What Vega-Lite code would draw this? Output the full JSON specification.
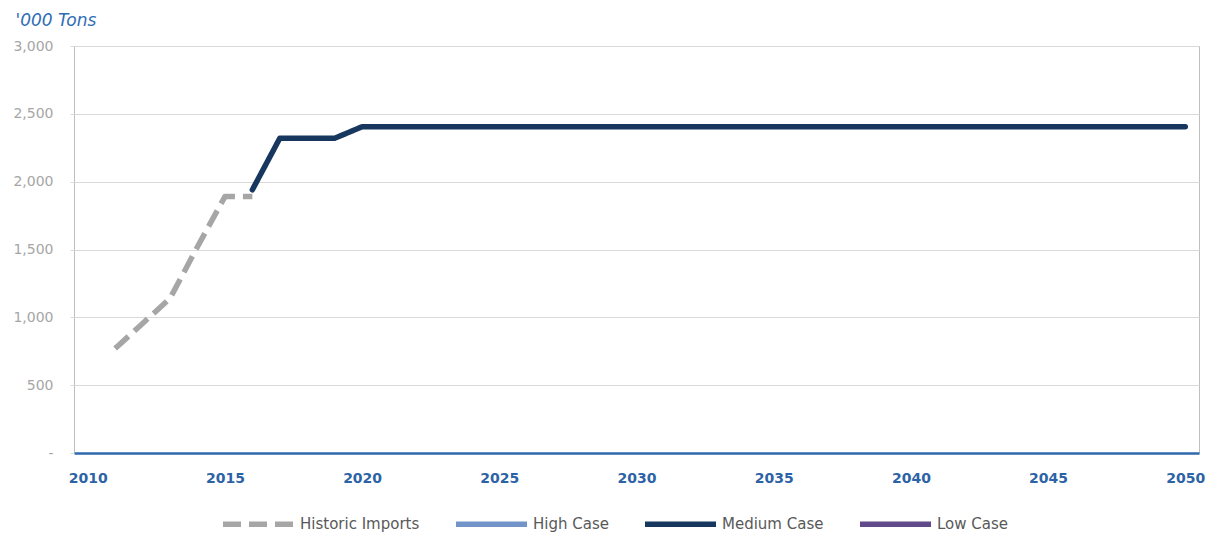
{
  "$schema": "https://vega.github.io/schema/vega-lite/v6.json",
  "width": 1125,
  "height": 407,
  "autosize": {"type": "none"},
  "padding": {"left": 74, "top": 46, "right": 14, "bottom": 81},
  "background": "white",
  "config": {
    "font": "DejaVu Sans",
    "view": {"stroke": "#bfbfbf", "strokeWidth": 1},
    "legend": {
      "title": null,
      "orient": "none",
      "legendX": 146,
      "legendY": 439.5,
      "direction": "horizontal",
      "padding": 0,
      "symbolType": "stroke",
      "symbolSize": 5041,
      "symbolStrokeWidth": 5.5,
      "labelFont": "DejaVu Sans",
      "labelFontSize": 15,
      "labelColor": "#595959",
      "labelOffset": 3,
      "columnPadding": 25
    }
  },
  "data": {
    "values": [
      {"year": 2011, "series": "Historic Imports", "tons": 770},
      {"year": 2012, "series": "Historic Imports", "tons": 955},
      {"year": 2013, "series": "Historic Imports", "tons": 1140},
      {"year": 2014, "series": "Historic Imports", "tons": 1520},
      {"year": 2015, "series": "Historic Imports", "tons": 1890},
      {"year": 2016, "series": "Historic Imports", "tons": 1890},
      {"year": 2016, "series": "Medium Case", "tons": 1940},
      {"year": 2017, "series": "Medium Case", "tons": 2320},
      {"year": 2018, "series": "Medium Case", "tons": 2320},
      {"year": 2019, "series": "Medium Case", "tons": 2320},
      {"year": 2020, "series": "Medium Case", "tons": 2405},
      {"year": 2021, "series": "Medium Case", "tons": 2405},
      {"year": 2022, "series": "Medium Case", "tons": 2405},
      {"year": 2023, "series": "Medium Case", "tons": 2405},
      {"year": 2024, "series": "Medium Case", "tons": 2405},
      {"year": 2025, "series": "Medium Case", "tons": 2405},
      {"year": 2026, "series": "Medium Case", "tons": 2405},
      {"year": 2027, "series": "Medium Case", "tons": 2405},
      {"year": 2028, "series": "Medium Case", "tons": 2405},
      {"year": 2029, "series": "Medium Case", "tons": 2405},
      {"year": 2030, "series": "Medium Case", "tons": 2405},
      {"year": 2031, "series": "Medium Case", "tons": 2405},
      {"year": 2032, "series": "Medium Case", "tons": 2405},
      {"year": 2033, "series": "Medium Case", "tons": 2405},
      {"year": 2034, "series": "Medium Case", "tons": 2405},
      {"year": 2035, "series": "Medium Case", "tons": 2405},
      {"year": 2036, "series": "Medium Case", "tons": 2405},
      {"year": 2037, "series": "Medium Case", "tons": 2405},
      {"year": 2038, "series": "Medium Case", "tons": 2405},
      {"year": 2039, "series": "Medium Case", "tons": 2405},
      {"year": 2040, "series": "Medium Case", "tons": 2405},
      {"year": 2041, "series": "Medium Case", "tons": 2405},
      {"year": 2042, "series": "Medium Case", "tons": 2405},
      {"year": 2043, "series": "Medium Case", "tons": 2405},
      {"year": 2044, "series": "Medium Case", "tons": 2405},
      {"year": 2045, "series": "Medium Case", "tons": 2405},
      {"year": 2046, "series": "Medium Case", "tons": 2405},
      {"year": 2047, "series": "Medium Case", "tons": 2405},
      {"year": 2048, "series": "Medium Case", "tons": 2405},
      {"year": 2049, "series": "Medium Case", "tons": 2405},
      {"year": 2050, "series": "Medium Case", "tons": 2405}
    ]
  },
  "encoding": {
    "x": {
      "field": "year",
      "type": "quantitative",
      "scale": {"domain": [2009.5, 2050.5], "nice": false, "zero": false},
      "axis": {
        "title": null,
        "values": [2010, 2015, 2020, 2025, 2030, 2035, 2040, 2045, 2050],
        "format": "d",
        "grid": false,
        "ticks": false,
        "tickSize": 0,
        "domainColor": "#2f68ad",
        "domainWidth": 2.5,
        "labelFont": "DejaVu Sans",
        "labelFontWeight": "bold",
        "labelFontSize": 14,
        "labelColor": "#2d63a6",
        "labelBaseline": "alphabetic",
        "labelPadding": 29
      }
    },
    "y": {
      "field": "tons",
      "type": "quantitative",
      "scale": {"domain": [0, 3000], "nice": false},
      "axis": {
        "values": [0, 500, 1000, 1500, 2000, 2500, 3000],
        "labelExpr": "datum.value === 0 ? '-\u00a0' : format(datum.value, ',')",
        "grid": true,
        "gridColor": "#d9d9d9",
        "gridWidth": 1,
        "domain": false,
        "ticks": true,
        "tickSize": 4,
        "tickColor": "#d9d9d9",
        "labelFont": "DejaVu Sans",
        "labelFontSize": 14,
        "labelColor": "#a6a6a6",
        "labelPadding": 17,
        "title": "'000 Tons",
        "titleFont": "DejaVu Sans",
        "titleFontStyle": "italic",
        "titleFontWeight": "normal",
        "titleFontSize": 17,
        "titleColor": "#2e6db4",
        "titleAngle": 0,
        "titleAlign": "left",
        "titleBaseline": "alphabetic",
        "titleX": -59,
        "titleY": -21
      }
    },
    "color": {
      "field": "series",
      "type": "nominal",
      "scale": {
        "domain": ["Historic Imports", "High Case", "Medium Case", "Low Case"],
        "range": ["#a6a6a6", "#7394c8", "#17375e", "#604a8c"]
      }
    },
    "strokeDash": {
      "field": "series",
      "type": "nominal",
      "scale": {
        "domain": ["Historic Imports", "High Case", "Medium Case", "Low Case"],
        "range": [[18, 8], [1, 0], [1, 0], [1, 0]]
      }
    }
  },
  "layer": [
    {
      "transform": [{"filter": "datum.series === 'Historic Imports'"}],
      "mark": {"type": "line", "strokeWidth": 5.5, "strokeCap": "butt", "strokeJoin": "round"}
    },
    {
      "transform": [{"filter": "datum.series !== 'Historic Imports'"}],
      "mark": {"type": "line", "strokeWidth": 5.5, "strokeCap": "round", "strokeJoin": "round"}
    }
  ]
}
